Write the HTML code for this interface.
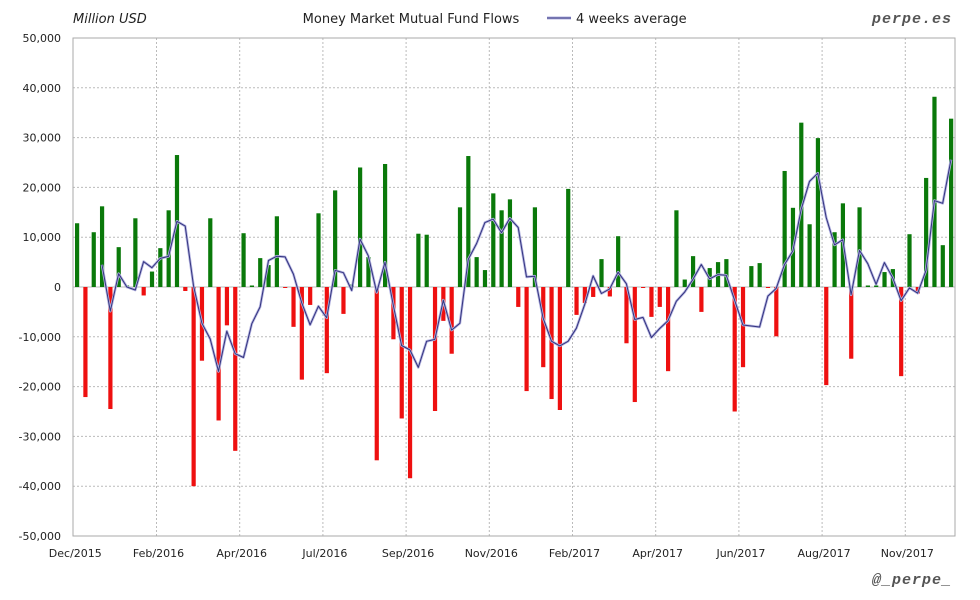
<!DOCTYPE html>
<html><head><meta charset="utf-8">
<style>
html,body{margin:0;padding:0;background:#fff;}
svg{display:block;font-family:"DejaVu Sans","Liberation Sans",sans-serif;}
</style></head>
<body>
<svg id="c" width="980" height="600" xmlns="http://www.w3.org/2000/svg">
<rect width="980" height="600" fill="#fff"/>
<g id="grid"></g>
<g id="bars"></g>
<g id="line"></g>
<rect x="73" y="38" width="882" height="498" fill="none" stroke="#aaa" stroke-width="1"/>
<text x="73" y="23" font-size="13" font-style="italic" fill="#222">Million USD</text>
<text x="411" y="23" font-size="13" text-anchor="middle" fill="#222">Money Market Mutual Fund Flows</text>
<line x1="547" y1="18" x2="571" y2="18" stroke="#b4b4e0" stroke-width="3"/>
<line x1="547" y1="18" x2="571" y2="18" stroke="#33337f" stroke-width="1"/>
<text x="576" y="23" font-size="13" fill="#222">4 weeks average</text>
<text x="952" y="23" font-size="15" font-weight="bold" font-style="italic" text-anchor="end" fill="#555" font-family="Liberation Mono, monospace" letter-spacing="1">perpe.es</text>
<text x="952" y="584" font-size="15" font-weight="bold" font-style="italic" text-anchor="end" fill="#555" font-family="Liberation Mono, monospace" letter-spacing="1">@_perpe_</text>
<g id="lab" font-size="11" fill="#222"></g>
</svg>
<script>
var d=[12.8,-22.1,11,16.2,-24.5,8,0.3,13.8,-1.7,3.1,7.8,15.4,26.5,-0.8,-40,-14.8,13.8,-26.8,-7.7,-32.9,10.8,0.3,5.8,4.4,14.2,-0.2,-8,-18.6,-3.6,14.8,-17.3,19.4,-5.4,
0.5,
24,6,-34.8,24.7,-10.5,-26.4,-38.4,10.7,10.5,-24.9,-6.8,-13.4,16,26.3,6,3.4,18.8,15.4,17.6,-4,-20.9,16,-16.1,-22.5,-24.7,19.7,-5.6,-3.2,-2,5.6,-1.9,10.2,-11.3,-23.1,-0.2,
-6,-4,-16.9,15.4,1.5,6.2,-5,3.8,5,5.6,-25,-16.1,4.2,4.8,-0.2,-9.9,23.3,15.9,33,12.6,29.9,-19.7,11,16.8,-14.4,16,0.3,0.3,3,3.6,-17.9,10.6,-1.3,21.9,38.2,8.4,33.8];
var NS="http://www.w3.org/2000/svg";
function el(p,t,a,txt){var e=document.createElementNS(NS,t);for(var k in a)e.setAttribute(k,a[k]);if(txt)e.textContent=txt;document.getElementById(p).appendChild(e);return e;}
var Y0=287,S=4.98;
function y(v){return Y0-v*S;}
for(var i=-5;i<=5;i++){var yy=Y0-i*49.8;
 if(i>-5&&i<5)el('grid','line',{x1:73,x2:955,y1:yy,y2:yy,stroke:'#bbb','stroke-dasharray':'2,2','stroke-width':1});
 var s=(i*10000).toLocaleString('en-US');el('lab','text',{x:61,y:yy+4,'text-anchor':'end'},s);}
el('grid','line',{x1:73,x2:955,y1:Y0,y2:Y0,stroke:'#bbb','stroke-width':1});
var ml=['Dec/2015','Feb/2016','Apr/2016','Jul/2016','Sep/2016','Nov/2016','Feb/2017','Apr/2017','Jun/2017','Aug/2017','Nov/2017'];
for(var j=0;j<11;j++){var xx=73.3+83.2*j;
 if(j>0)el('grid','line',{x1:xx,x2:xx,y1:38,y2:536,stroke:'#bbb','stroke-dasharray':'2,2','stroke-width':1});
 el('lab','text',{x:xx+2,y:557,'text-anchor':'middle'},ml[j]);}
var pts=[];
for(var i=0;i<d.length;i++){var x=77+8.324*i,v=d[i];
 var t=Math.min(y(v),Y0),h=Math.abs(v*S);
 el('bars','rect',{x:x-2,y:t,width:4.2,height:Math.max(h,0.8),fill:v>=0?'#0a790a':'#ee1010'});
 if(i>=3){var a=(d[i]+d[i-1]+d[i-2]+d[i-3])/4;pts.push(x.toFixed(1)+','+y(a).toFixed(1));}}
el('line','polyline',{points:pts.join(' '),fill:'none',stroke:'#b4b4e0','stroke-width':2.6,'stroke-linejoin':'round'});
el('line','polyline',{points:pts.join(' '),fill:'none',stroke:'#33337f','stroke-width':1,'stroke-linejoin':'round'});
</script>
</body></html>
